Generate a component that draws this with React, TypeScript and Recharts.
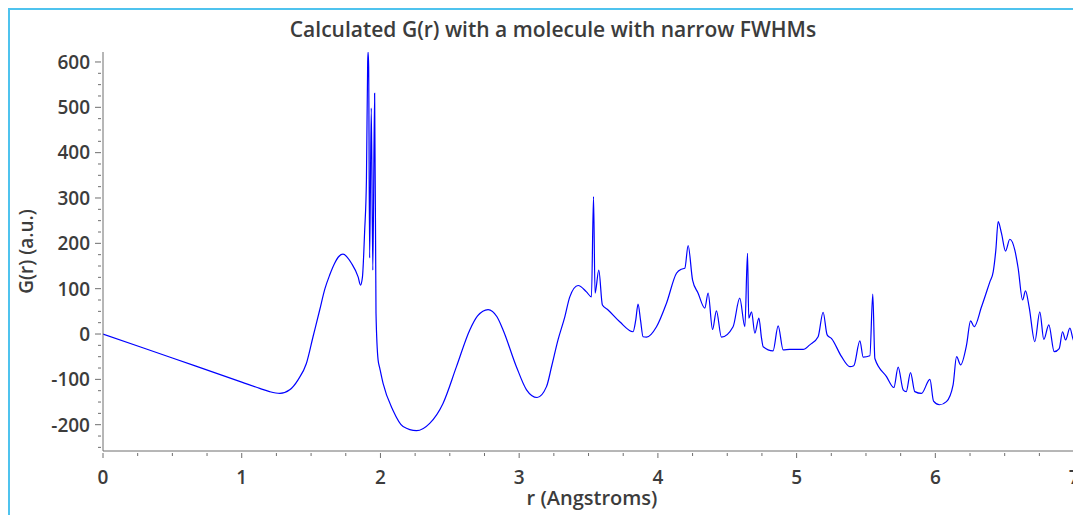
import { LineChart, Line, XAxis, YAxis, Label } from "recharts";

// r (Angstroms) and G(r)
const rValues = [
  0, 0.5, 1.0, 1.13, 1.2, 1.275, 1.346, 1.406, 1.466, 1.514, 1.562, 1.6, 1.634, 1.67, 1.7, 1.73,
  1.791, 1.839, 1.856, 1.87, 1.886, 1.899, 1.908, 1.911, 1.915, 1.922, 1.934, 1.945, 1.958,
  1.968, 1.983, 1.995, 2.019, 2.09, 2.163, 2.26, 2.355, 2.451, 2.548, 2.644, 2.7, 2.776, 2.84,
  2.884, 2.98, 3.053, 3.129, 3.197, 3.235, 3.28, 3.329, 3.365, 3.425, 3.485, 3.521, 3.536,
  3.547, 3.574, 3.6, 3.641, 3.725, 3.821, 3.84, 3.857, 3.875, 3.893, 3.918, 3.99, 4.062,
  4.134, 4.17, 4.194, 4.218, 4.25, 4.29, 4.338, 4.362, 4.394, 4.422, 4.458, 4.542, 4.59,
  4.627, 4.646, 4.655, 4.675, 4.699, 4.728, 4.747, 4.759, 4.83, 4.867, 4.903, 4.95, 5.047,
  5.095, 5.155, 5.191, 5.22, 5.252, 5.324, 5.384, 5.412, 5.456, 5.48, 5.528, 5.549, 5.564,
  5.648, 5.701, 5.732, 5.768, 5.79, 5.821, 5.852, 5.9, 5.961, 5.987, 6.03, 6.08, 6.128,
  6.153, 6.182, 6.225, 6.254, 6.28, 6.333, 6.393, 6.417, 6.436, 6.453, 6.477, 6.506, 6.537,
  6.573, 6.597, 6.629, 6.65, 6.676, 6.717, 6.753, 6.782, 6.818, 6.857, 6.893, 6.917, 6.939,
  6.97, 6.998, 7.03, 7.047,
];

const gValues = [
  0, -53, -106, -120, -127, -131, -123, -101, -65, -6, 53, 100, 130, 156, 171, 176,
  156, 126, 108, 125, 226, 340, 600, 622, 590, 168, 498, 141, 531,
  46, -57, -75, -109, -168, -204, -213, -197, -153, -72, 9, 40, 54, 38,
  9, -72, -123, -140, -116, -70, -13, 38, 82, 107, 93, 82, 303,
  90, 141, 64, 53, 27, 5, 30, 66, 30, -6, -7, 16, 68,
  134, 143, 145, 195, 119, 90, 57, 90, 10, 51, -7, 16, 79,
  16, 178, 35, 49, 2, 35, -9, -28, -37, 18, -35, -34, -34,
  -24, -6, 48, -2, -10, -50, -72, -70, -15, -51, -48, 88, -54,
  -94, -118, -73, -123, -127, -85, -127, -131, -100, -148, -156, -149, -112,
  -50, -68, -24, 29, 16, 60, 115, 137, 185, 248, 222, 183, 209,
  185, 145, 75, 95, 60, -17, 49, -12, 20, -39, -32, 5, -13,
  13, -15, -9, 27,
];

const xMajorTicks = [0, 1, 2, 3, 4, 5, 6, 7];
const xMinorTicks = [
  0.25, 0.5, 0.75, 1.25, 1.5, 1.75, 2.25, 2.5, 2.75, 3.25, 3.5, 3.75,
  4.25, 4.5, 4.75, 5.25, 5.5, 5.75, 6.25, 6.5, 6.75,
];
const yMajorTicks = [-200, -100, 0, 100, 200, 300, 400, 500, 600];
const yMinorTicks = [
  -250, -225, -175, -150, -125, -75, -50, -25, 25, 50, 75, 125, 150, 175,
  225, 250, 275, 325, 350, 375, 425, 450, 475, 525, 550, 575,
];

const data = rValues.map((r, i) => ({ r, g: gValues[i] }));
const xTicks = [...xMajorTicks, ...xMinorTicks].sort((a, b) => a - b);
const yTicks = [...yMajorTicks, ...yMinorTicks].sort((a, b) => a - b);

const FONT = '"Open Sans", "Noto Sans", sans-serif';
const TEXT = "#3c3c3c";
const AXIS = "#6e6e6e";

const XTick = (props: any) => {
  const { x, y, payload } = props;
  const major = xMajorTicks.includes(payload.value);
  return (
    <g>
      <line x1={x} x2={x} y1={y} y2={y + (major ? 5 : 3)} stroke={AXIS} />
      {major && (
        <text x={x} y={y + 31} textAnchor="middle" fill={TEXT} fontSize={19} fontWeight={600} fontFamily={FONT}>
          {payload.value}
        </text>
      )}
    </g>
  );
};

const YTick = (props: any) => {
  const { x, y, payload } = props;
  const major = yMajorTicks.includes(payload.value);
  return (
    <g>
      <line x1={x - (major ? 6 : 3)} x2={x} y1={y} y2={y} stroke={AXIS} />
      {major && (
        <text x={x - 11} y={y} dy="0.36em" textAnchor="end" fill={TEXT} fontSize={19} fontWeight={600} fontFamily={FONT}>
          {payload.value}
        </text>
      )}
    </g>
  );
};

export default function App() {
  return (
    <div
      style={{
        position: "relative",
        width: 1073,
        height: 507,
        boxSizing: "border-box",
        borderLeft: "2px solid #4fc3ee",
        borderTop: "2px solid #4fc3ee",
        overflow: "hidden",
        background: "#fff",
      }}
    >
      <style>{"html,body{overflow:hidden}"}</style>
      <svg width={1071} height={60} style={{ position: "absolute", left: 0, top: 0 }}>
        <text x={543} y={27} textAnchor="middle" fill={TEXT} fontSize={21} fontWeight={600} fontFamily={FONT}>
          Calculated G(r) with a molecule with narrow FWHMs
        </text>
      </svg>
      <LineChart width={1071} height={505} data={data} margin={{ top: 42, right: 0, bottom: 12, left: 0 }}>
        <XAxis
          type="number"
          dataKey="r"
          domain={[0, 7.05]}
          allowDataOverflow
          ticks={xTicks}
          interval={0}
          tickSize={0}
          tickLine={false}
          tick={<XTick />}
          height={52}
          stroke={AXIS}
        >
          <Label
            value="r (Angstroms)"
            position="insideBottom"
            offset={-2}
            fill={TEXT}
            style={{ fontSize: 20, fontWeight: 600, fontFamily: FONT }}
          />
        </XAxis>
        <YAxis
          type="number"
          domain={[-258, 622]}
          allowDataOverflow
          ticks={yTicks}
          interval={0}
          tickSize={0}
          tickLine={false}
          tick={<YTick />}
          width={93}
          stroke={AXIS}
        >
          <Label
            value="G(r) (a.u.)"
            angle={-90}
            position="insideLeft"
            offset={16}
            fill={TEXT}
            style={{ fontSize: 19, fontWeight: 600, fontFamily: FONT, textAnchor: "middle" }}
          />
        </YAxis>
        <Line
          type="monotone"
          dataKey="g"
          stroke="#0000ff"
          strokeWidth={1.2}
          dot={false}
          isAnimationActive={false}
        />
      </LineChart>
    </div>
  );
}
